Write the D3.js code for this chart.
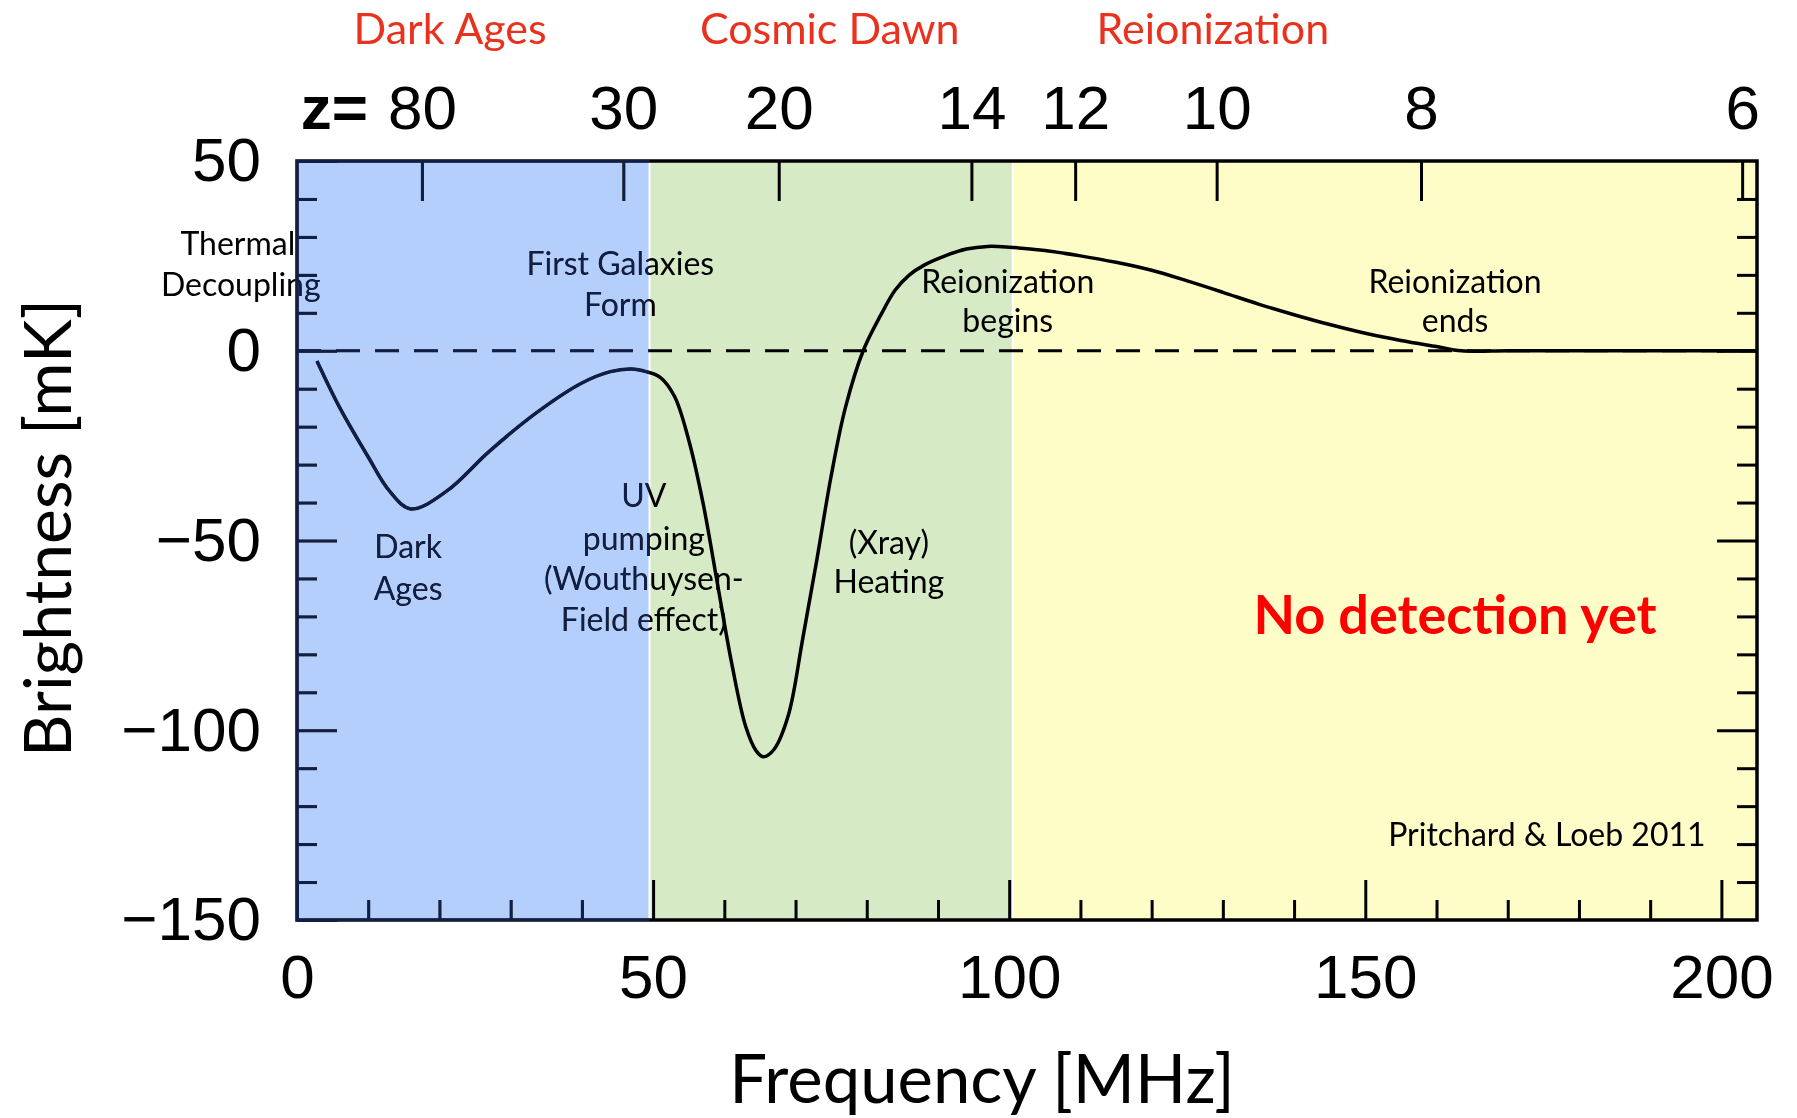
<!DOCTYPE html>
<html>
<head>
<meta charset="utf-8">
<script src="https://cdn.jsdelivr.net/npm/d3@7"></script>
<style>
  body { margin: 0; background: #fff; }
  svg { display: block; }
  .tick text { font-family: "Liberation Sans", Arial, sans-serif; }
</style>
</head>
<body>
<div id="chart"></div>
<script>
// 21cm global signal, frequency [MHz] vs brightness [mK]
var freqs = [2.8, 6, 10, 13, 16, 21, 27, 33.5, 40, 44,
    47, 49, 51, 53, 55, 57, 59, 61, 63, 64.5,
    65.5, 67, 69, 71, 73, 75, 77, 79.5, 82, 84,
    86, 88, 91, 94, 97, 100, 105, 110, 115, 120,
    125, 130, 135, 140, 145, 150, 155, 160, 163.5, 170,
    180, 190, 205];
var temps = [-2.7, -15, -28, -37, -41.7, -37, -26.5, -16.5, -8.5, -5.5,
    -4.8, -5.5, -7, -12, -23.5, -40, -61, -82, -99, -105.5,
    -107, -105, -96, -76, -55, -33, -15, 0, 9.5, 16,
    20, 22.5, 25, 26.8, 27.5, 27.3, 26.4, 25, 23.3, 21.2,
    18.4, 15.4, 12.3, 9.5, 6.9, 4.6, 2.7, 1.1, 0, 0,
    0, 0, 0];

// shaded epochs (MHz)
var bandNames = ["Dark Ages", "Cosmic Dawn", "Reionization"];
var bandEdges = [0, 49.5, 100.5, 205];
var bandColors = ["#b4cffb", "#d7eac6", "#fefdc8"];
var bandTitleAt = [21.5, 74.8, 128.6];

// redshift ticks on top axis
var zTicks = [80, 30, 20, 14, 12, 10, 8, 6];
var nu21 = 1420.4;

var xMajor = [0, 50, 100, 150, 200];
var yMajor = [-150, -100, -50, 0, 50];

// annotations: [text, MHz, mK]
var notes = [
    ["Thermal", -8.3, 28.1], ["Decoupling", -7.9, 17.3],
    ["First Galaxies", 45.4, 22.8], ["Form", 45.4, 12],
    ["Dark", 15.6, -51.7], ["Ages", 15.6, -62.8],
    ["UV", 48.7, -38.3], ["pumping", 48.7, -49.6],
    ["(Wouthuysen-", 48.7, -60.2], ["Field effect)", 48.7, -70.9],
    ["(Xray)", 83.1, -50.7], ["Heating", 83.1, -61],
    ["Reionization", 99.8, 18.1], ["begins", 99.8, 7.8],
    ["Reionization", 162.6, 18.1], ["ends", 162.6, 7.8],
    ["Pritchard & Loeb 2011", 175.5, -127.6]
];

var W = 1797, H = 1118;
var svg = d3.select("#chart").append("svg")
    .attr("width", W).attr("height", H);

var x = d3.scaleLinear().domain([0, 205]).range([297, 1757]);
var y = d3.scaleLinear().domain([-150, 50]).range([920, 161]);

// bands
var bands = d3.range(3).map(i => ({ x0: bandEdges[i], x1: bandEdges[i + 1], c: bandColors[i], name: bandNames[i], t: bandTitleAt[i] }));
svg.selectAll(".band").data(bands).enter().append("rect")
    .attr("x", d => x(d.x0)).attr("width", d => x(d.x1) - x(d.x0))
    .attr("y", y(50)).attr("height", y(-150) - y(50))
    .attr("fill", d => d.c);
svg.selectAll(".sep").data(bandEdges.slice(1, 3)).enter().append("line")
    .attr("x1", d => x(d)).attr("x2", d => x(d))
    .attr("y1", y(50)).attr("y2", y(-150))
    .attr("stroke", "#fff").attr("stroke-width", 2);

// red epoch titles
svg.selectAll(".title").data(bands).enter().append("text")
    .attr("x", d => x(d.t)).attr("y", 44)
    .attr("text-anchor", "middle")
    .style("font-family", "Lato, sans-serif").style("font-size", "43px")
    .attr("fill", "#e8321e")
    .text(d => d.name);

// zero line
svg.append("line")
    .attr("x1", x(0)).attr("x2", x(205))
    .attr("y1", y(0)).attr("y2", y(0))
    .attr("stroke", "#000").attr("stroke-width", 3.2)
    .attr("stroke-dasharray", "24,15");

// signal
var pts = freqs.map((f, i) => [f, temps[i]]);
svg.append("path")
    .datum(pts)
    .attr("fill", "none").attr("stroke", "#000").attr("stroke-width", 3.5)
    .attr("stroke-linejoin", "round")
    .attr("d", d3.line().x(d => x(d[0])).y(d => y(d[1])).curve(d3.curveCatmullRom.alpha(0.5)));

// axes
function styleAxis(g) {
    g.select(".domain").remove();
    g.selectAll(".tick line").attr("stroke", "#000").attr("stroke-width", 3);
    g.selectAll(".tick text").style("font-size", "62px").attr("fill", "#000");
}
var fmt = d3.format("d");

svg.append("g").attr("transform", "translate(0," + y(-150) + ")")
    .call(d3.axisBottom(x).tickValues(d3.range(10, 201, 10).filter(v => v % 50)).tickSize(-20).tickFormat(""))
    .call(styleAxis);
svg.append("g").attr("transform", "translate(0," + y(-150) + ")")
    .call(d3.axisBottom(x).tickValues(xMajor).tickSize(-40).tickPadding(34).tickFormat(fmt))
    .call(styleAxis);

svg.append("g").attr("transform", "translate(" + x(0) + ",0)")
    .call(d3.axisLeft(y).tickValues(d3.range(-140, 50, 10).filter(v => v % 50)).tickSize(-20).tickFormat(""))
    .call(styleAxis);
svg.append("g").attr("transform", "translate(" + x(0) + ",0)")
    .call(d3.axisLeft(y).tickValues(yMajor).tickSize(-40).tickPadding(36).tickFormat(fmt))
    .call(styleAxis);

svg.append("g").attr("transform", "translate(" + x(205) + ",0)")
    .call(d3.axisRight(y).tickValues(d3.range(-140, 50, 10).filter(v => v % 50)).tickSize(-20).tickFormat(""))
    .call(styleAxis);
svg.append("g").attr("transform", "translate(" + x(205) + ",0)")
    .call(d3.axisRight(y).tickValues(yMajor.slice(1, 4)).tickSize(-40).tickFormat(""))
    .call(styleAxis);

svg.append("g").attr("transform", "translate(0," + y(50) + ")")
    .call(d3.axisTop(x).tickValues(zTicks.map(z => nu21 / (1 + z))).tickSize(-40).tickPadding(32)
        .tickFormat(f => fmt(Math.round(nu21 / f - 1))))
    .call(styleAxis);

svg.append("text")
    .attr("x", x(nu21 / 81) - 54).attr("y", 129)
    .attr("text-anchor", "end")
    .style("font-family", "Liberation Sans, Arial, sans-serif")
    .style("font-size", "62px").style("font-weight", "bold")
    .text("z=");

// frame
svg.append("rect")
    .attr("x", x(0)).attr("y", y(50))
    .attr("width", x(205) - x(0)).attr("height", y(-150) - y(50))
    .attr("fill", "none").attr("stroke", "#000").attr("stroke-width", 3.5);

// annotations
svg.selectAll(".note").data(notes).enter().append("text")
    .attr("x", d => x(d[1])).attr("y", d => y(d[2]))
    .attr("dy", "0.35em")
    .attr("text-anchor", "middle")
    .style("font-family", "Lato, sans-serif").style("font-size", "32px")
    .attr("fill", "#000")
    .text(d => d[0]);

svg.append("text")
    .attr("x", x(162.6)).attr("y", y(-69.6))
    .attr("dy", "0.35em")
    .attr("text-anchor", "middle")
    .style("font-family", "Lato, sans-serif").style("font-size", "54px").style("font-weight", "bold")
    .attr("fill", "#ff0000")
    .text("No detection yet");

// blue overlay tints dark ink navy in the Dark Ages band
svg.append("rect")
    .attr("x", x(0) - 2).attr("width", x(49.5) - x(0) + 2)
    .attr("y", y(50) - 2).attr("height", y(-150) - y(50) + 4)
    .attr("fill", "#0f1f48")
    .style("mix-blend-mode", "lighten");

// axis titles
svg.append("text")
    .attr("transform", "translate(71,528) rotate(-90)")
    .attr("text-anchor", "middle")
    .style("font-family", "Lato, sans-serif").style("font-size", "66px")
    .text("Brightness [mK]");
svg.append("text")
    .attr("x", 982).attr("y", 1103)
    .attr("text-anchor", "middle")
    .style("font-family", "Lato, sans-serif").style("font-size", "67px")
    .text("Frequency [MHz]");
</script>
</body>
</html>
